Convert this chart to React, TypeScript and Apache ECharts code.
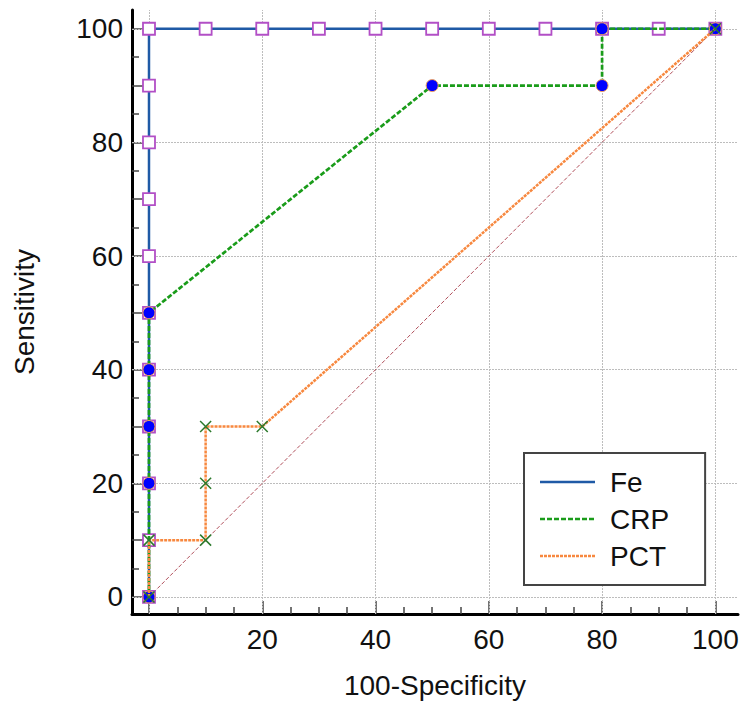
import React, { useEffect, useRef } from "react";
import * as echarts from "echarts";

// Fe ROC points (100-Specificity, Sensitivity)
const feX = [0, 0, 0, 0, 0, 0, 0, 0, 0, 0, 0, 10, 20, 30, 40, 50, 60, 70, 80, 90, 100];
const feY = [0, 10, 20, 30, 40, 50, 60, 70, 80, 90, 100, 100, 100, 100, 100, 100, 100, 100, 100, 100, 100];
// CRP ROC points
const crpX = [0, 0, 0, 0, 0, 50, 80, 80, 100];
const crpY = [0, 20, 30, 40, 50, 90, 90, 100, 100];
// PCT ROC points
const pctX = [0, 0, 10, 10, 10, 20, 100];
const pctY = [0, 10, 10, 20, 30, 30, 100];
// reference diagonal
const diagX = [0, 100];
const diagY = [0, 100];

const seriesNames = ["Fe", "CRP", "PCT"];
const labelTicks = [0, 20, 40, 60, 80, 100];
const xMajorTicks = [0, 20, 40, 60, 80, 100];
const xMinorTicks = [5, 10, 15, 25, 30, 35, 45, 50, 55, 65, 70, 75, 85, 90, 95];
const yMajorTicks = [0, 10, 20, 30, 40, 50, 60, 70, 80, 90, 100];
const yMinorTicks = [5, 15, 25, 35, 45, 55, 65, 75, 85, 95];
const gridLinesX = [0, 20, 40, 60, 80, 100];
const gridLinesY = [0, 20, 40, 60, 80, 100];

const zip = (xs: number[], ys: number[]) => xs.map((x, i) => [x, ys[i]]);

const FONT = "'Liberation Sans', Arial, sans-serif";
const FS = 28;

const FE_COLOR = "#1f5aa6";
const CRP_COLOR = "#1a9c1a";
const PCT_COLOR = "#f7883f";
const CRP_DASH = [5, 2];
const PCT_DASH = [3, 1];

const noSplit = {
  splitLine: { show: false },
  minorSplitLine: { show: false },
  splitArea: { show: false },
  minorTick: { show: false },
};

export default function App() {
  const ref = useRef<HTMLDivElement>(null);
  useEffect(() => {
    if (!ref.current) return;
    const chart = echarts.init(ref.current, null, { renderer: "svg" });
    const legendLineX = 540;
    const legendLineW = 55;
    const legendRows = [482, 519, 556];
    const legendStyles = [
      { stroke: FE_COLOR, lineWidth: 2.5, lineDash: null as any },
      { stroke: CRP_COLOR, lineWidth: 2.5, lineDash: CRP_DASH },
      { stroke: PCT_COLOR, lineWidth: 2.5, lineDash: PCT_DASH },
    ];
    const option: any = {
      animation: false,
      backgroundColor: "#ffffff",
      textStyle: { fontFamily: FONT },
      grid: { left: 132, right: 6, top: 10, bottom: 97 },
      xAxis: [
        {
          type: "value",
          min: -3,
          max: 104,
          position: "bottom",
          ...noSplit,
          name: "100-Specificity",
          nameLocation: "middle",
          nameGap: 57,
          nameTextStyle: { fontSize: FS, color: "#111", fontFamily: FONT },
          axisLine: { show: true, onZero: false, lineStyle: { color: "#000", width: 3 } },
          axisTick: { show: true, inside: true, length: 13, customValues: xMajorTicks, lineStyle: { color: "#444", width: 1.5 } },
          axisLabel: { show: true, customValues: labelTicks, margin: 11, fontSize: FS, color: "#111", fontFamily: FONT },
        },
        {
          type: "value",
          min: -3,
          max: 104,
          position: "bottom",
          ...noSplit,
          axisLine: { show: false, onZero: false },
          axisTick: { show: true, inside: true, length: 7, customValues: xMinorTicks, lineStyle: { color: "#444", width: 1.5 } },
          axisLabel: { show: false },
        },
      ],
      yAxis: [
        {
          type: "value",
          min: -3,
          max: 103.3,
          position: "left",
          ...noSplit,
          name: "Sensitivity",
          nameLocation: "middle",
          nameGap: 94,
          nameTextStyle: { fontSize: FS, color: "#111", fontFamily: FONT },
          axisLine: { show: true, onZero: false, lineStyle: { color: "#000", width: 3 } },
          axisTick: { show: true, inside: true, length: 13, customValues: yMajorTicks, lineStyle: { color: "#444", width: 1.5 } },
          axisLabel: { show: true, customValues: labelTicks, margin: 9, fontSize: FS, color: "#111", fontFamily: FONT },
        },
        {
          type: "value",
          min: -3,
          max: 103.3,
          position: "left",
          ...noSplit,
          axisLine: { show: false, onZero: false },
          axisTick: { show: true, inside: true, length: 7, customValues: yMinorTicks, lineStyle: { color: "#444", width: 1.5 } },
          axisLabel: { show: false },
        },
      ],
      legend: {
        orient: "vertical",
        left: 524,
        top: 453,
        padding: [15, 36, 15, 16],
        itemWidth: 55,
        itemHeight: 14,
        itemGap: 9,
        backgroundColor: "#ffffff",
        borderColor: "#444",
        borderWidth: 2,
        selectedMode: false,
        z: 50,
        textStyle: { fontSize: FS, color: "#111", fontFamily: FONT, padding: [0, 0, 0, 10] },
        data: seriesNames.map((n) => ({ name: n, icon: "none" })),
      },
      graphic: legendStyles.map((s, i) => ({
        type: "line",
        z: 100,
        silent: true,
        shape: { x1: legendLineX, y1: legendRows[i], x2: legendLineX + legendLineW, y2: legendRows[i] },
        style: { stroke: s.stroke, lineWidth: s.lineWidth, lineDash: s.lineDash || undefined },
      })),
      series: [
        {
          type: "line",
          name: "diag",
          data: zip(diagX, diagY),
          symbol: "none",
          z: 2,
          silent: true,
          lineStyle: { color: "#b04e5a", width: 1, type: [4, 2] },
          markLine: {
            silent: true,
            symbol: "none",
            z: 1,
            label: { show: false },
            lineStyle: { color: "#bdbdbd", width: 1, type: [2, 1] },
            data: [
              ...gridLinesX.map((v) => ({ xAxis: v })),
              ...gridLinesY.map((v) => ({ yAxis: v })),
            ],
          },
        },
        {
          type: "line",
          name: seriesNames[0],
          data: zip(feX, feY),
          z: 3,
          symbol: "rect",
          symbolSize: 12,
          lineStyle: { color: FE_COLOR, width: 2.5, type: "solid" },
          itemStyle: { color: "#ffffff", borderColor: "#b24fc6", borderWidth: 1.8 },
        },
        {
          type: "line",
          name: seriesNames[1],
          data: zip(crpX, crpY),
          z: 4,
          symbol: "circle",
          symbolSize: 12,
          lineStyle: { color: CRP_COLOR, width: 2.7, type: CRP_DASH },
          itemStyle: { color: "#0000ff", borderColor: "#f0a060", borderWidth: 1 },
        },
        {
          type: "line",
          name: seriesNames[2],
          data: zip(pctX, pctY),
          z: 5,
          symbol: "path://M0,0L10,10M10,0L0,10",
          symbolSize: 11,
          lineStyle: { color: PCT_COLOR, width: 2.5, type: PCT_DASH },
          itemStyle: { color: "#2d7a2d", borderColor: "#2d7a2d", borderWidth: 1.5 },
        },
      ],
    };
    chart.setOption(option);
    return () => chart.dispose();
  }, []);
  return (
    <div
      ref={ref}
      style={{ position: "fixed", left: 0, top: 0, width: 744, height: 711, background: "#fff" }}
    />
  );
}
